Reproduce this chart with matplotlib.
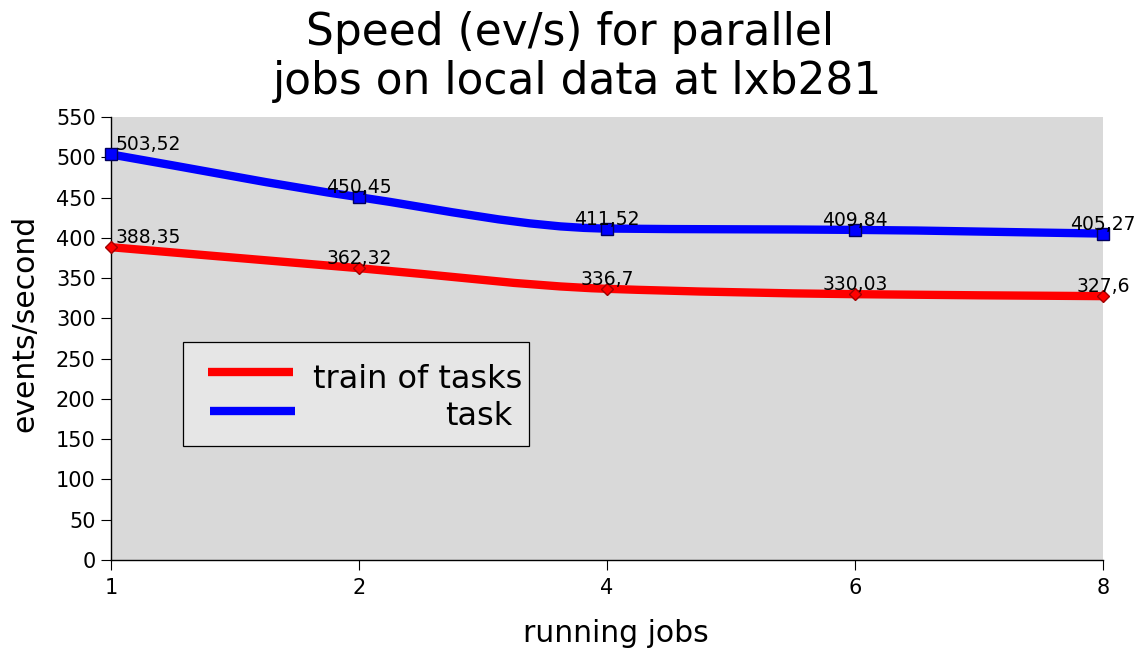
import matplotlib
matplotlib.use("Agg")
import matplotlib.pyplot as plt
from matplotlib.path import Path
from matplotlib.patches import PathPatch, Rectangle
from matplotlib.lines import Line2D

# ---- data ----
categories = ["1", "2", "4", "6", "8"]
train_of_tasks = [388.35, 362.32, 336.7, 330.03, 327.6]
task = [503.52, 450.45, 411.52, 409.84, 405.27]
series_names = ["train of tasks", "task"]
y_ticks = list(range(0, 551, 50))

title = "Speed (ev/s) for parallel \njobs on local data at lxb281"
xlabel = "running jobs"
ylabel = "events/second"

W, H = 1141, 653
fig = plt.figure(figsize=(W / 100, H / 100), dpi=100)
fig.patch.set_facecolor("white")


def fx(px):
    return px / W


def fy(py):
    return 1 - py / H


ax = fig.add_axes([fx(111), fy(560), fx(1103) - fx(111), fy(117) - fy(560)])
ax.set_facecolor("#d9d9d9")
ax.set_xlim(0, len(categories) - 1)
ax.set_ylim(0, 550)
ax.set_yticks(y_ticks)
ax.set_xticks(range(len(categories)))
ax.set_xticklabels(categories)
ax.tick_params(axis="both", direction="out", length=7, width=0.8, labelsize=15, colors="black")
ax.tick_params(axis="y", pad=4)
ax.tick_params(axis="x", pad=6)
for s in ["top", "right"]:
    ax.spines[s].set_visible(False)
for s in ["left", "bottom"]:
    ax.spines[s].set_linewidth(1.0)
    ax.spines[s].set_color("black")


def smooth_path(xs, ys):
    """Monotone cubic (Fritsch-Carlson) spline through the data points as Bezier path."""
    n = len(xs)
    d = [(ys[i + 1] - ys[i]) / (xs[i + 1] - xs[i]) for i in range(n - 1)]
    m = [d[0]] + [0.0] * (n - 2) + [d[-1]]
    for i in range(1, n - 1):
        if d[i - 1] * d[i] <= 0:
            m[i] = 0.0
        else:
            m[i] = 2.0 / (1.0 / d[i - 1] + 1.0 / d[i])
    verts = [(xs[0], ys[0])]
    codes = [Path.MOVETO]
    for i in range(n - 1):
        h = xs[i + 1] - xs[i]
        c1 = (xs[i] + h / 3, ys[i] + m[i] * h / 3)
        c2 = (xs[i + 1] - h / 3, ys[i + 1] - m[i + 1] * h / 3)
        verts += [c1, c2, (xs[i + 1], ys[i + 1])]
        codes += [Path.CURVE4] * 3
    return Path(verts, codes)


xs = list(range(len(categories)))
styles = [
    (train_of_tasks, "#ff0000", "D", 6, "#a00000"),
    (task, "#0000ff", "s", 8, "#000060"),
]
for vals, color, marker, ms, mec in styles:
    patch = PathPatch(smooth_path(xs, vals), facecolor="none", edgecolor=color,
                      lw=6, capstyle="butt", zorder=3, clip_on=False)
    ax.add_patch(patch)
    ax.plot(xs, vals, linestyle="none", marker=marker, ms=ms, mfc=color,
            mec=mec, mew=1, zorder=4, clip_on=False)
    for i, v in enumerate(vals):
        lbl = f"{v:g}".replace(".", ",")
        if i == 0:
            ax.annotate(lbl, (xs[i], v), xytext=(3, 0), textcoords="offset points",
                        ha="left", va="bottom", fontsize=13.5, zorder=5)
        else:
            ax.annotate(lbl, (xs[i], v), xytext=(0, 0), textcoords="offset points",
                        ha="center", va="bottom", fontsize=13.5, zorder=5)

fig.text(fx(616), fy(634), xlabel, ha="center", va="center", fontsize=21.5)
fig.text(fx(25), fy(323), ylabel, ha="center", va="center", rotation=90, fontsize=21.5)

fig.text(fx(577), fy(11), title, ha="center", va="top", fontsize=31.6, linespacing=1.18)

# ---- legend (drawn manually to mimic the original layout) ----
fig.add_artist(Rectangle((fx(183), fy(446)), fx(529) - fx(183), fy(342) - fy(446),
                         transform=fig.transFigure, facecolor="#e6e6e6",
                         edgecolor="black", lw=0.9, zorder=6))
fig.add_artist(Line2D([fx(208), fx(293)], [fy(372), fy(372)], transform=fig.transFigure,
                      color="#ff0000", lw=6, solid_capstyle="butt", zorder=7))
fig.add_artist(Line2D([fx(210), fx(295)], [fy(411), fy(411)], transform=fig.transFigure,
                      color="#0000ff", lw=6, solid_capstyle="butt", zorder=7))
fig.text(fx(313), fy(376), series_names[0], ha="left", va="center_baseline",
         fontsize=23, zorder=8)
fig.text(fx(512), fy(413), series_names[1], ha="right", va="center_baseline",
         fontsize=23, zorder=8)

fig.savefig("out.png", dpi=100)
